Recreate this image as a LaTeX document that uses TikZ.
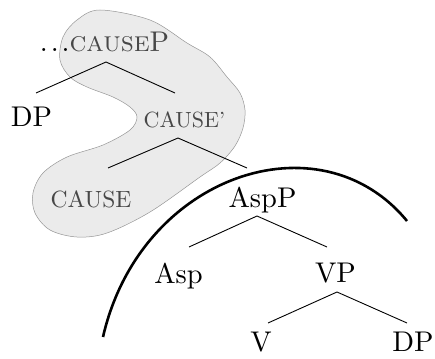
\documentclass[tikz,border=0pt]{standalone}
\usepackage{fontspec}
\setmainfont{lmroman10-regular.otf}[SmallCapsFont=lmromancaps10-regular.otf]
\definecolor{causegray}{RGB}{72,72,72}
\definecolor{blobfill}{RGB}{235,235,235}
\definecolor{blobline}{RGB}{150,150,150}
\tikzset{
  lbl/.style={anchor=base, inner sep=0pt, font=\fontsize{28.5}{30}\selectfont},
  glbl/.style={lbl, text=causegray},
  branch/.style={line width=0.9pt, black},
  blob/.style={fill=blobfill, draw=blobline, line width=0.5pt},
  bigarc/.style={line width=2.6pt, black}
}
\begin{document}
\begin{tikzpicture}[x=1pt,y=-1pt]
\useasboundingbox (0,0) rectangle (435,358);
% shaded region
\draw[blob] plot[smooth cycle, tension=0.55] coordinates {
 (100,10) (150,20) (187,43) (210,57) (227,77) (240,93) (245,110) (243,128)
 (235,146) (220,163) (200,177) (150,212) (107,233) (77,237) (50,230) (35,213)
 (33,193) (43,173) (67,157) (103,145) (130,130) (137,117) (130,107) (113,97)
 (87,87) (70,77) (60,60) (63,37) (77,20)};
% labels
\node[lbl] (causep) at (104.5,52) {.\kern3pt.\kern3pt.\textcolor{causegray}{\textsc{cause}P}};
\node[lbl] (dp1) at (31.5,127) {DP};
\node[glbl, font=\fontsize{22}{24}\selectfont] (causebar) at (184.5,128) {CAUSE’};
\node[glbl, font=\fontsize{23.5}{25}\selectfont] (cause) at (91,207) {CAUSE};
\node[lbl] (aspp) at (262.5,207) {AspP};
\node[lbl] (asp) at (178.5,283) {Asp};
\node[lbl] (vp) at (335.5,282) {VP};
\node[lbl] (v) at (261,351) {V};
\node[lbl] (dp2) at (413,351) {DP};
% branch points
\coordinate (a1) at (106,62);  \coordinate (a1l) at (36,93);   \coordinate (a1r) at (175,93);
\coordinate (a2) at (178,138); \coordinate (a2l) at (108,168); \coordinate (a2r) at (247,168);
\coordinate (a3) at (257,216); \coordinate (a3l) at (189,247); \coordinate (a3r) at (327,247);
\coordinate (a4) at (337,292); \coordinate (a4l) at (268,323); \coordinate (a4r) at (407,323);
\draw[branch] (a1l) -- (a1) -- (a1r);
\draw[branch] (a2l) -- (a2) -- (a2r);
\draw[branch] (a3l) -- (a3) -- (a3r);
\draw[branch] (a4l) -- (a4) -- (a4r);
% big arc
\coordinate (arcs) at (103,337);
\coordinate (arce) at (407,221);
\draw[bigarc] (arcs) .. controls (140,175) and (320,115) .. (arce);
\end{tikzpicture}
\end{document}
